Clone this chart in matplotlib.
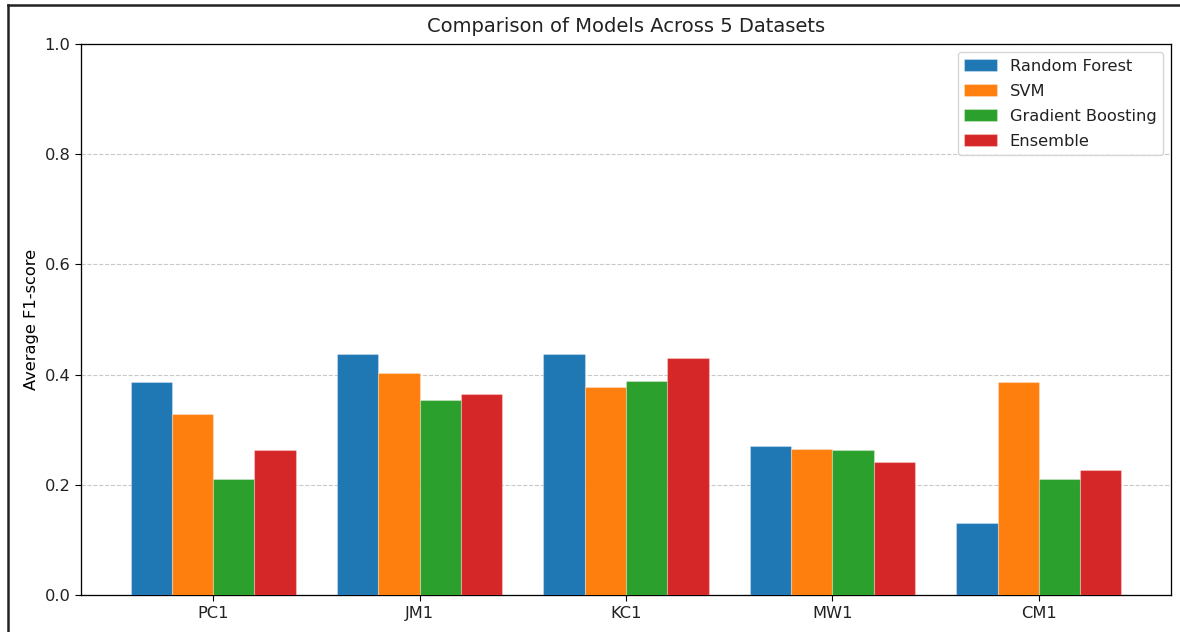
import matplotlib
matplotlib.use("Agg")
import matplotlib.pyplot as plt
import numpy as np
from matplotlib.lines import Line2D

datasets = ["PC1", "JM1", "KC1", "MW1", "CM1"]
models = ["Random Forest", "SVM", "Gradient Boosting", "Ensemble"]
rf = [0.386, 0.438, 0.438, 0.271, 0.131]
svm = [0.328, 0.403, 0.377, 0.265, 0.386]
gb = [0.211, 0.353, 0.388, 0.263, 0.211]
ens = [0.263, 0.365, 0.431, 0.241, 0.227]
series = [rf, svm, gb, ens]
colors = ["#1f77b4", "#ff7f0e", "#2ca02c", "#d62728"]

s = 1.17
plt.rcParams.update({
    "font.size": 10 * s,
    "axes.titlesize": 12 * s,
    "axes.labelsize": 10 * s,
    "xtick.labelsize": 10 * s,
    "ytick.labelsize": 10 * s,
    "legend.fontsize": 10 * s,
    "xtick.major.size": 3.5 * s,
    "ytick.major.size": 3.5 * s,
    "axes.linewidth": 0.8 * s,
    "text.color": "#222222",
    "xtick.labelcolor": "#222222",
    "ytick.labelcolor": "#222222",
})

fig = plt.figure(figsize=(11.8, 6.32), dpi=100)
ax = fig.add_axes([81/1180, 1 - 595/632, (1171-81)/1180, (595-44)/632])

x = np.arange(len(datasets))
width = 0.2
for i, (vals, name, c) in enumerate(zip(series, models, colors)):
    ax.bar(x + (i - 1.5) * width, vals, width, label=name, color=c,
           edgecolor=(1, 1, 1, 0.3), linewidth=0.8, zorder=3)

ax.set_xticks(x)
ax.set_xticklabels(datasets)
ax.set_ylim(0, 1.0)
ax.set_ylabel("Average F1-score")
ax.set_title("Comparison of Models Across 5 Datasets", pad=9)
ax.yaxis.grid(True, linestyle="--", color="#bbbbbb", alpha=0.8, zorder=0)
ax.set_axisbelow(True)
ax.legend(loc="upper right", labelspacing=0.62)

# screenshot frame
fig.add_artist(Line2D([8/1180, 1.0], [1 - 5/632, 1 - 5/632], color="#222222", linewidth=1.8, transform=fig.transFigure))
fig.add_artist(Line2D([8/1180, 8/1180], [0, 1 - 5/632], color="#222222", linewidth=1.8, transform=fig.transFigure))

fig.savefig("out.png", dpi=100)
